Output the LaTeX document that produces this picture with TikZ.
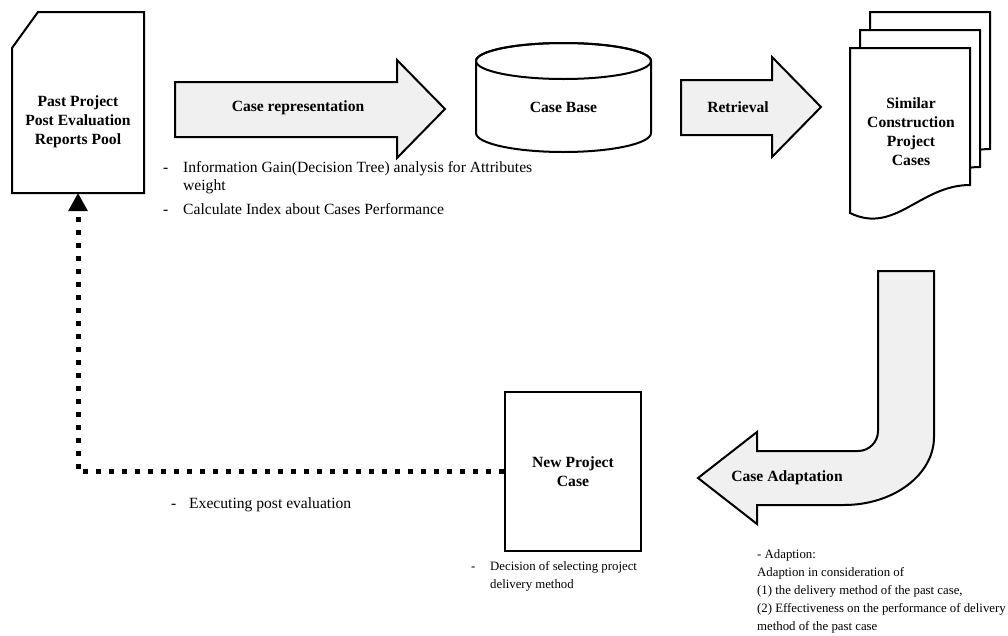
\documentclass[tikz,border=0pt]{standalone}
\usepackage{fontspec}
\setmainfont{Liberation Serif}
\usetikzlibrary{arrows.meta}
\definecolor{arrowgray}{HTML}{F0F0F0}
\begin{document}
\begin{tikzpicture}[x=1pt,y=-1pt,
  outline/.style={draw=black,line width=2pt,line join=miter},
  bigarrow/.style={outline,fill=arrowgray},
  paper/.style={outline,fill=white},
  lbl/.style={font=\bfseries\fontsize{15.6}{19}\selectfont,align=center,inner sep=0pt},
  note/.style={font=\fontsize{15.6}{18}\selectfont,inner sep=0pt,anchor=north west,align=left},
  smallnote/.style={font=\fontsize{12.8}{18}\selectfont,inner sep=0pt,anchor=north west,align=left},
  feedback/.style={line width=5pt,dash pattern=on 5pt off 8pt,-{Triangle[width=20pt,length=18pt,line width=0pt]}}
]
\useasboundingbox (0,0) rectangle (1008,635);

% Past project document (cut corner)
\node[minimum width=132pt,minimum height=181pt,inner sep=0pt] (past) at (78,102.5) {};
\draw[paper] (12,48) -- (38,12) -- (144,12) -- (144,193) -- (12,193) -- cycle;
\node[lbl] (pasttext) at (78,122) {Past Project\\Post Evaluation\\Reports Pool};

% Case representation arrow
\draw[bigarrow] (175,82) -- (397,82) -- (397,60) -- (445,109) -- (397,158) -- (397,137) -- (175,137) -- cycle;
\node[lbl] (caserep) at (298,108) {Case representation};

% Case base cylinder
\draw[paper] (476,61) -- (476,133) arc[start angle=180,end angle=0,x radius=87.5,y radius=19] -- (651,61) arc[start angle=0,end angle=-180,x radius=87.5,y radius=18] -- cycle;
\draw[outline] (563.5,61) ellipse[x radius=87.5,y radius=18];
\node[lbl] (cb) at (563.5,107) {Case Base};

% Retrieval arrow
\draw[bigarrow] (681,80) -- (772,80) -- (772,57) -- (821,107) -- (772,157) -- (772,135) -- (681,135) -- cycle;
\node[lbl] (ret) at (738,107) {Retrieval};

% Stacked documents
\draw[paper] (870,12) -- (990,12) -- (990,149) .. controls (940,149) and (915,199) .. (870,177) -- cycle;
\draw[paper] (860,30) -- (980,30) -- (980,167) .. controls (930,167) and (905,217) .. (860,195) -- cycle;
\draw[paper] (850,48) -- (970,48) -- (970,185) .. controls (920,185) and (895,235) .. (850,213) -- cycle;
\node[lbl] (sim) at (911,132) {Similar\\Construction\\Project\\Cases};

% Case adaptation bent arrow
\draw[bigarrow] (878,271) -- (934,271) -- (934,437) arc[start angle=0,end angle=90,x radius=90,y radius=68] -- (757,505) -- (757,524) -- (698,478) -- (757,432) -- (757,451) -- (858,451) arc[start angle=90,end angle=0,radius=20] -- cycle;
\node[lbl] (adapt) at (787,478) {Case Adaptation};

% New project case
\node[outline,fill=white,lbl,minimum width=136pt,minimum height=159pt] (npc) at (573,471.5) {New Project\\Case};

% Feedback dotted connector
\draw[feedback] (npc.west) -| (past.south);

% Notes
\node[note] (ig) at (163,161.7) {\makebox[20pt][l]{-}Information Gain(Decision Tree) analysis for Attributes\\\hspace*{20pt}weight\\[6pt]\makebox[20pt][l]{-}Calculate Index about Cases Performance};
\node[note,anchor=base west] (exec) at (171,508.7) {\makebox[18pt][l]{-}Executing post evaluation};
\node[smallnote] (dec) at (471,561) {\makebox[19pt][l]{-}Decision of selecting project\\\hspace*{19pt}delivery method};
\node[smallnote] (adp) at (757,549) {- Adaption:\\Adaption in consideration of\\(1) the delivery method of the past case,\\(2) Effectiveness on the performance of delivery\\method of the past case};
\end{tikzpicture}
\end{document}
